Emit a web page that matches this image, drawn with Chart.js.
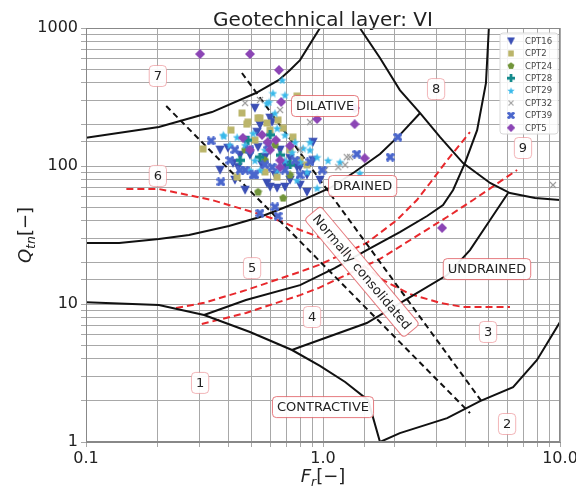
<!DOCTYPE html>
<html>
<head>
<meta charset="utf-8">
<script src="https://cdn.jsdelivr.net/npm/chart.js@4.4.0/dist/chart.umd.min.js"></script>
<style>
  html, body { margin: 0; padding: 0; background: #fff; }
</style>
</head>
<body>
<canvas id="chart" width="576" height="491"></canvas>
<script>
// ---- tick labels ----
const xTickValues = [0.1, 1, 10];
const xTickLabels = ['0.1', '1.0', '10.0'];
const yTickValues = [1, 10, 100, 1000];
const yTickLabels = ['1', '10', '100', '1000'];

// ---- CPT data (Fr [%], Qtn) ----
const series = ['CPT16', 'CPT2', 'CPT24', 'CPT28', 'CPT29', 'CPT32', 'CPT39', 'CPT5'];

const cpt16Fr  = [0.516, 0.598, 0.610, 0.527, 0.368, 0.397, 0.438, 0.368, 0.580, 0.598, 0.640, 0.691, 0.777, 0.907, 0.907, 0.856, 0.726, 0.569, 0.492, 0.417, 0.856, 0.800, 0.532, 0.469, 0.553, 0.659, 0.627, 0.726, 0.447, 0.542, 0.425, 0.800, 0.971, 0.469, 0.691];
const cpt16Qtn = [263, 223, 208, 176, 131, 135, 98, 93.5, 75.3, 70.5, 69.3, 70.5, 98, 149, 110, 86.1, 114, 116, 120, 105, 64.8, 98, 137, 154, 102, 131, 86.1, 79.2, 120, 198, 79.2, 72.8, 79.2, 67, 102];

const cpt2Fr  = [0.312, 0.409, 0.455, 0.482, 0.532, 0.580, 0.646, 0.679, 0.777, 0.747, 0.800, 0.856, 0.640, 0.569, 0.434, 0.477, 0.542, 0.598, 0.726, 0.516];
const cpt2Qtn = [133, 182, 242, 208, 223, 205, 215, 188, 321, 162, 110, 102, 83.2, 90.5, 83.2, 201, 223, 182, 131, 154];

const cpt24Fr  = [0.532, 0.679, 0.569, 0.469, 0.726, 0.627];
const cpt24Qtn = [64.8, 58.6, 110, 131, 86.1, 142];

const cpt28Fr  = [0.542, 0.482, 0.659, 0.598, 0.726, 0.447];
const cpt28Qtn = [116, 154, 120, 168, 102, 110];

const cpt29Fr  = [0.673, 0.615, 0.580, 0.627, 0.379, 0.434, 0.507, 0.640, 0.691, 0.762, 0.740, 0.824, 0.944, 1.05, 0.944, 0.856, 0.777, 0.640, 0.542, 1.43, 0.592, 0.382, 0.469, 0.569, 0.800, 0.691, 0.516, 0.881, 0.691, 1.18, 0.492, 0.881, 0.405];
const cpt29Qtn = [420, 338, 286, 242, 168, 162, 173, 188, 168, 149, 126, 135, 116, 110, 69.3, 90.5, 79.2, 93.5, 93.5, 89, 291, 165, 142, 131, 107, 110, 110, 149, 327, 107, 93.5, 131, 142];

const cpt32Fr  = [0.469, 0.659, 0.881, 1.16, 1.26, 1.30, 1.24, 1.02, 9.34, 0.542, 0.800];
const cpt32Qtn = [286, 255, 208, 98, 116, 116, 102, 93.5, 72.8, 301, 131];

const cpt39Fr  = [0.337, 0.371, 0.507, 0.610, 1.39, 1.92, 2.07, 0.991, 0.627, 0.542, 0.646, 0.492, 0.569, 0.691, 0.800, 0.469, 0.881, 0.586, 0.425, 0.447, 0.405, 0.762, 0.516];
const cpt39Qtn = [152, 76.6, 86.1, 98, 122, 116, 162, 93.5, 50.5, 45.6, 43.4, 131, 102, 93.5, 86.1, 93.5, 107, 142, 131, 93.5, 110, 110, 86.1];

const cpt5Fr  = [0.303, 0.492, 0.652, 0.666, 0.944, 1.36, 1.36, 1.50, 3.18, 0.459, 0.553, 0.584, 0.633, 0.598, 0.659, 0.659, 0.726, 0.492];
const cpt5Qtn = [648, 648, 496, 291, 219, 263, 201, 114, 35.6, 160, 168, 149, 154, 131, 110, 98, 140, 131];

// ---- zone boundaries (black solid) ----
const zone7Fr  = [0.1, 0.203, 0.340, 0.521, 0.652, 0.726, 0.800, 0.971];
const zone7Qtn = [160, 192, 246, 338, 420, 496, 585, 1000];
const zone8Fr  = [1.43, 1.74, 2.11, 2.57, 3.12, 3.90, 5.07, 6.15, 7.85, 10];
const zone8Qtn = [1000, 606, 355, 242, 162, 105, 75.3, 63.7, 58.6, 56.7];
const zone6Fr  = [0.1, 0.138, 0.203, 0.272, 0.401, 0.542, 0.679, 0.839, 1.07, 1.36, 1.74, 2.11, 2.57];
const zone6Qtn = [27.7, 27.7, 29.6, 31.6, 36.7, 42.7, 49.6, 57.6, 69.3, 90.5, 122, 168, 242];
const zone5Fr  = [0.315, 0.473, 0.800, 1.12, 1.53, 2.11, 2.75, 3.21, 3.54, 3.97, 4.47, 4.87, 5.01];
const zone5Qtn = [8.32, 10.7, 13.7, 18.2, 24.6, 33.2, 43.4, 52.2, 67, 105, 182, 399, 1000];
const zone4Fr  = [0.740, 0.800, 1.53, 2.33, 3.34, 4.17, 5.07, 6.04];
const zone4Qtn = [4.64, 4.88, 7.28, 11.2, 16.2, 24.6, 40.6, 63.7];
const zone1Fr  = [0.1, 0.203, 0.315, 0.492, 0.740, 0.971, 1.24, 1.55, 1.74];
const zone1Qtn = [10.3, 9.84, 8.32, 6.27, 4.64, 3.56, 2.72, 2.01, 1];
const zone2Fr  = [1.74, 2.11, 3.34, 4.60, 6.34, 8.0, 10];
const zone2Qtn = [1, 1.16, 1.49, 1.98, 2.50, 3.93, 7.41];

// ---- CD / CC boundaries (red dashed) ----
const cdFr  = [0.148, 0.203, 0.340, 0.521, 0.679, 0.800, 0.962, 1.30, 1.79, 2.33, 3.12, 3.90, 6.15];
const cdQtn = [68.1, 68.1, 56.7, 45.6, 39.3, 34.4, 30.6, 22.6, 14.9, 11.8, 10.2, 9.51, 9.51];
const ccUpperFr  = [0.240, 0.315, 0.473, 0.800, 0.962, 1.53, 2.05, 2.49, 2.83, 3.34, 4.17];
const ccUpperQtn = [9.35, 10.2, 12.6, 17.1, 19.2, 27.7, 40.6, 56.7, 75.3, 110, 176];
const ccLowerFr  = [0.308, 0.473, 0.800, 0.962, 1.74, 3.34, 4.30, 6.59];
const ccLowerQtn = [7.16, 8.61, 11.6, 13.1, 21.2, 42.7, 56.7, 93.5];

// ---- normally consolidated band (black dashed) ----
const ncLeftFr  = [0.218, 4.17];
const ncLeftQtn = [272, 1.62];
const ncRightFr  = [0.455, 4.69];
const ncRightQtn = [472, 1.95];

// ---- zone annotations ----
const zoneText  = ['7', '8', '9', '6', 'DILATIVE', 'DRAINED', '5', '4', 'UNDRAINED', '3', '1', 'CONTRACTIVE', '2', 'Normally consolidated'];
const zoneTextFr  = [0.201, 3.0, 6.98, 0.201, 1.02, 1.47, 0.502, 0.899, 4.92, 4.97, 0.303, 1.0, 5.98, 1.46];
const zoneTextQtn = [449, 361, 135, 84.7, 272, 71.6, 18.2, 8.05, 17.9, 6.27, 2.68, 1.79, 1.35, 17.1];
const zoneTextAngle = [0, 0, 0, 0, 0, 0, 0, 0, 0, 0, 0, 0, 0, 50];

// ---- styles ----
const seriesColor  = ['#3b4fb5', '#bbb56a', '#72953a', '#148a8c', '#39b9ea', '#9a9a9a', '#4a66cc', '#8b45b5'];
const seriesMarker = ['triDown', 'square', 'pentagon', 'plus', 'star', 'x', 'xFilled', 'diamond'];
const seriesSize   = [10, 8, 9, 9, 9, 8, 9, 10];

const FONT = '"DejaVu Sans", "Liberation Sans", sans-serif';

// draws one matplotlib-like marker into a small canvas
function makeMarker(kind, color, s) {
  const c = document.createElement('canvas');
  c.width = s; c.height = s;
  const g = c.getContext('2d');
  const m = s / 2;
  g.fillStyle = color;
  g.strokeStyle = color;
  g.beginPath();
  if (kind === 'triDown') {
    g.moveTo(0.3, 0.8); g.lineTo(s - 0.3, 0.8); g.lineTo(m, s - 0.3);
  } else if (kind === 'square') {
    g.rect(0.5, 0.5, s - 1, s - 1);
  } else if (kind === 'pentagon') {
    for (let i = 0; i < 5; i++) {
      const a = -Math.PI / 2 + i * 2 * Math.PI / 5;
      g.lineTo(m + (m - 0.3) * Math.cos(a), m + (m - 0.3) * Math.sin(a));
    }
  } else if (kind === 'diamond') {
    g.moveTo(m, 0); g.lineTo(s, m); g.lineTo(m, s); g.lineTo(0, m);
  } else if (kind === 'star') {
    for (let i = 0; i < 10; i++) {
      const a = -Math.PI / 2 + i * Math.PI / 5;
      const r = i % 2 === 0 ? m : m * 0.42;
      g.lineTo(m + r * Math.cos(a), m + 0.6 + r * Math.sin(a));
    }
  } else if (kind === 'plus' || kind === 'xFilled') {
    g.translate(m, m);
    if (kind === 'xFilled') g.rotate(Math.PI / 4);
    const a = kind === 'xFilled' ? m * 1.15 : m, h = s * 0.19;
    g.moveTo(-h, -a); g.lineTo(h, -a); g.lineTo(h, -h); g.lineTo(a, -h); g.lineTo(a, h); g.lineTo(h, h);
    g.lineTo(h, a); g.lineTo(-h, a); g.lineTo(-h, h); g.lineTo(-a, h); g.lineTo(-a, -h); g.lineTo(-h, -h);
  } else if (kind === 'x') {
    g.lineWidth = 1.1;
    g.moveTo(1, 1); g.lineTo(s - 1, s - 1);
    g.moveTo(s - 1, 1); g.lineTo(1, s - 1);
    g.stroke();
    return c;
  }
  g.closePath();
  g.fill();
  return c;
}

const toPoints = (fr, q) => fr.map((v, i) => ({ x: v, y: q[i] }));

const scatterFr  = [cpt16Fr, cpt2Fr, cpt24Fr, cpt28Fr, cpt29Fr, cpt32Fr, cpt39Fr, cpt5Fr];
const scatterQtn = [cpt16Qtn, cpt2Qtn, cpt24Qtn, cpt28Qtn, cpt29Qtn, cpt32Qtn, cpt39Qtn, cpt5Qtn];
const markerImgs = series.map((s, i) => makeMarker(seriesMarker[i], seriesColor[i], seriesSize[i]));

const scatterSets = series.map((name, i) => ({
  label: name,
  data: toPoints(scatterFr[i], scatterQtn[i]),
  pointStyle: markerImgs[i],
  pointRadius: seriesSize[i] / 2,
  order: series.length - i
}));

function lineSet(fr, q, color, dash) {
  return {
    label: '',
    data: toPoints(fr, q),
    showLine: true,
    borderColor: color,
    borderWidth: 2,
    borderDash: dash,
    pointRadius: 0,
    fill: false,
    order: 100
  };
}

const lineSets = [
  lineSet(zone7Fr, zone7Qtn, '#111', []),
  lineSet(zone8Fr, zone8Qtn, '#111', []),
  lineSet(zone6Fr, zone6Qtn, '#111', []),
  lineSet(zone5Fr, zone5Qtn, '#111', []),
  lineSet(zone4Fr, zone4Qtn, '#111', []),
  lineSet(zone1Fr, zone1Qtn, '#111', []),
  lineSet(zone2Fr, zone2Qtn, '#111', []),
  lineSet(ncLeftFr, ncLeftQtn, '#111', [6, 4]),
  lineSet(ncRightFr, ncRightQtn, '#111', [6, 4]),
  lineSet(cdFr, cdQtn, '#e8282c', [7, 4]),
  lineSet(ccUpperFr, ccUpperQtn, '#e8282c', [7, 4]),
  lineSet(ccLowerFr, ccLowerQtn, '#e8282c', [7, 4])
];

function tickLabel(values, labels) {
  return (v) => {
    const i = values.findIndex(t => Math.abs(t - v) / t < 1e-6);
    return i >= 0 ? labels[i] : '';
  };
}

function roundBox(ctx, x, y, w, h, r) {
  ctx.beginPath();
  ctx.moveTo(x + r, y);
  ctx.lineTo(x + w - r, y); ctx.quadraticCurveTo(x + w, y, x + w, y + r);
  ctx.lineTo(x + w, y + h - r); ctx.quadraticCurveTo(x + w, y + h, x + w - r, y + h);
  ctx.lineTo(x + r, y + h); ctx.quadraticCurveTo(x, y + h, x, y + h - r);
  ctx.lineTo(x, y + r); ctx.quadraticCurveTo(x, y, x + r, y);
  ctx.closePath();
}

// text with italic letters and a subscript, like matplotlib mathtext
function mathText(ctx, parts) {
  let w = 0;
  parts.forEach(p => { ctx.font = p.font; p.w = ctx.measureText(p.t).width; w += p.w; });
  let x = -w / 2;
  parts.forEach(p => { ctx.font = p.font; ctx.fillText(p.t, x, p.dy); x += p.w; });
}

const overlay = {
  id: 'overlay',
  afterDatasetsDraw(chart) {
    const { ctx, chartArea: a, scales: { x, y } } = chart;
    ctx.save();
    // zone labels in boxes
    ctx.font = '13px ' + FONT;
    ctx.lineWidth = 1;
    zoneText.forEach((t, i) => {
      const px = x.getPixelForValue(zoneTextFr[i]);
      const py = y.getPixelForValue(zoneTextQtn[i]);
      ctx.save();
      ctx.translate(px, py);
      ctx.rotate(zoneTextAngle[i] * Math.PI / 180);
      const w = ctx.measureText(t).width + 9, h = 21;
      roundBox(ctx, -w / 2, -h / 2, w, h, 4);
      ctx.fillStyle = 'rgba(255,255,255,0.92)';
      ctx.fill();
      ctx.strokeStyle = t.length > 1 ? 'rgba(222,80,85,0.75)' : 'rgba(232,120,125,0.55)';
      ctx.stroke();
      ctx.fillStyle = '#222';
      ctx.textAlign = 'center';
      ctx.textBaseline = 'middle';
      ctx.fillText(t, 0, 1);
      ctx.restore();
    });
    // plot frame
    ctx.strokeStyle = '#888';
    ctx.strokeRect(a.left + 0.5, a.top + 0.5, a.right - a.left - 1, a.bottom - a.top - 1);
    ctx.restore();
  },
  afterDraw(chart) {
    const { ctx, chartArea: a } = chart;
    ctx.save();
    // legend
    const lx = a.right - 60, ly = a.top + 5, lw = 58, lh = 101;
    roundBox(ctx, lx, ly, lw, lh, 3);
    ctx.fillStyle = 'rgba(255,255,255,0.85)';
    ctx.fill();
    ctx.strokeStyle = '#d8d8d8';
    ctx.lineWidth = 1;
    ctx.stroke();
    ctx.font = '8.5px ' + FONT;
    ctx.textBaseline = 'middle';
    ctx.textAlign = 'left';
    series.forEach((name, i) => {
      const cy = ly + 8 + i * 12.4;
      const img = markerImgs[i];
      const k = 0.85;
      ctx.drawImage(img, lx + 11 - img.width * k / 2, cy - img.height * k / 2, img.width * k, img.height * k);
      ctx.fillStyle = '#444';
      ctx.fillText(name, lx + 25, cy + 0.5);
    });
    // axis titles
    ctx.fillStyle = '#222';
    ctx.textAlign = 'left';
    ctx.textBaseline = 'alphabetic';
    ctx.save();
    ctx.translate((a.left + a.right) / 2, 482);
    mathText(ctx, [
      { t: 'F', font: 'italic 18px ' + FONT, dy: 0 },
      { t: 'r', font: 'italic 12.5px ' + FONT, dy: 4 },
      { t: '[\u2212]', font: '18px ' + FONT, dy: 0 }
    ]);
    ctx.restore();
    ctx.save();
    ctx.translate(31, (a.top + a.bottom) / 2);
    ctx.rotate(-Math.PI / 2);
    mathText(ctx, [
      { t: 'Q', font: 'italic 18px ' + FONT, dy: 0 },
      { t: 'tn', font: 'italic 12.5px ' + FONT, dy: 4 },
      { t: '[\u2212]', font: '18px ' + FONT, dy: 0 }
    ]);
    ctx.restore();
    ctx.restore();
  }
};

new Chart(document.getElementById('chart'), {
  type: 'scatter',
  data: { datasets: [...lineSets, ...scatterSets] },
  options: {
    responsive: false,
    animation: false,
    events: [],
    layout: { padding: { left: 0, right: 16, top: 0, bottom: 0 } },
    plugins: {
      legend: { display: false },
      tooltip: { enabled: false },
      title: {
        display: true,
        text: 'Geotechnical layer: VI',
        fullSize: false,
        color: '#222',
        font: { family: FONT, size: 20, weight: 'normal' },
        padding: { top: 9, bottom: -5 }
      }
    },
    scales: {
      x: {
        type: 'logarithmic',
        min: 0.1,
        max: 10,
        grid: { color: '#a8a8a8', lineWidth: 1, tickLength: 5 },
        border: { color: '#888' },
        ticks: {
          autoSkip: false,
          maxRotation: 0,
          padding: 2,
          color: '#222',
          font: { family: FONT, size: 16 },
          callback: tickLabel(xTickValues, xTickLabels)
        },
        afterFit(scale) {
          scale.height = 49;
          scale.paddingLeft = 0;
          scale.paddingRight = 0;
        }
      },
      y: {
        type: 'logarithmic',
        min: 1,
        max: 1000,
        grid: { color: '#a8a8a8', lineWidth: 1, tickLength: 5 },
        border: { color: '#888' },
        ticks: {
          autoSkip: false,
          padding: 3,
          color: '#222',
          font: { family: FONT, size: 16 },
          callback: tickLabel(yTickValues, yTickLabels)
        },
        afterFit(scale) {
          scale.width = 86;
          scale.paddingTop = 0;
          scale.paddingBottom = 0;
        }
      }
    }
  },
  plugins: [overlay]
});
</script>
</body>
</html>
